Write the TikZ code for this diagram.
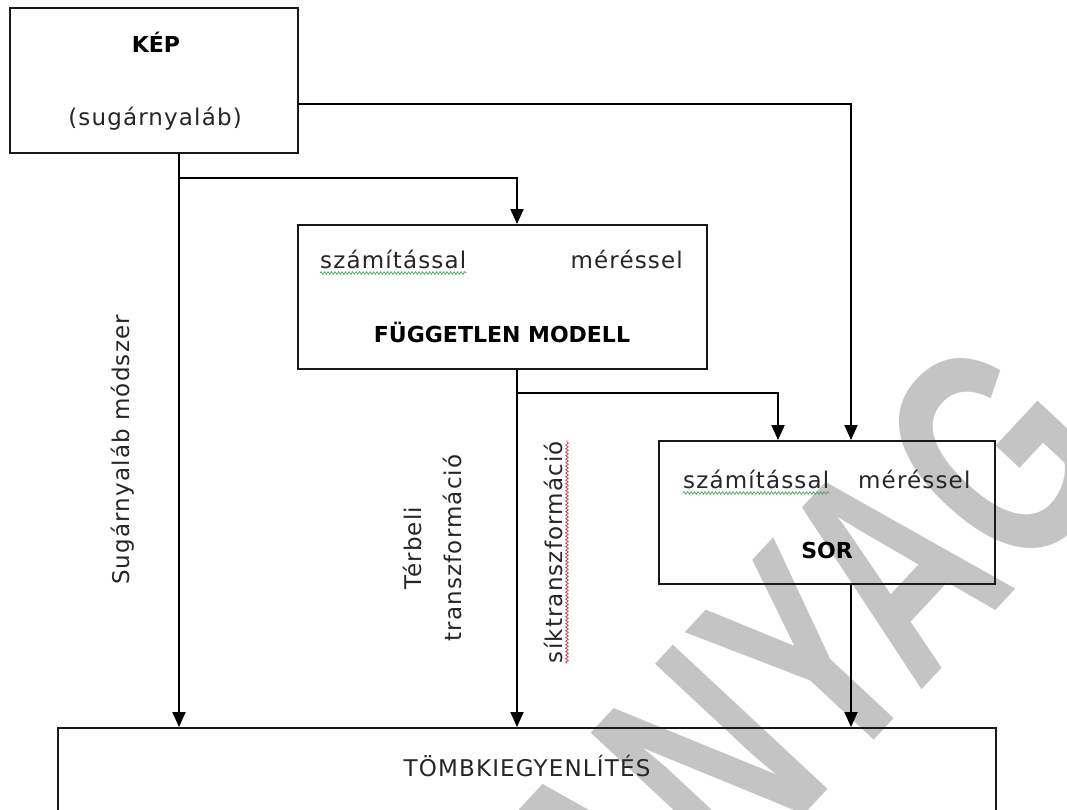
\documentclass[tikz,border=0pt]{standalone}
\usepackage{fontspec}
\usepackage{graphicx}
\setmainfont{DejaVu Sans}
\newfontfamily\lblfont{DejaVu Sans}[LetterSpace=5]
\newfontfamily\hdrfont{DejaVu Sans}
\newfontfamily\wmfont{Liberation Sans}
\usetikzlibrary{arrows.meta,decorations.pathmorphing,calc}
\definecolor{wmgray}{RGB}{196,196,196}
\definecolor{spellgreen}{RGB}{70,170,90}
\definecolor{spellred}{RGB}{215,50,70}
\begin{document}
\begin{tikzpicture}[x=1pt,y=-1pt,
  box/.style={draw=black!90, line width=1.9pt, inner sep=0pt},
  lbl/.style={font=\lblfont\fontsize{23}{28}\selectfont, inner sep=0pt, text=black!85},
  hdr/.style={font=\hdrfont\bfseries\fontsize{22}{26}\selectfont, inner sep=0pt, text=black},
  arr/.style={draw=black, line width=1.8pt, -{Triangle[width=13pt,length=15pt]}},
  wavyg/.style={draw=spellgreen, line width=0.7pt, decorate, decoration={snake, amplitude=1.3pt, segment length=3.5pt}},
  wavyr/.style={draw=spellred, line width=0.7pt, decorate, decoration={snake, amplitude=1.3pt, segment length=3.5pt}},
  wm/.style={font=\wmfont\bfseries\fontsize{205}{205}\selectfont, text=wmgray, inner sep=0pt}]
\useasboundingbox (0,0) rectangle (1067,810);
\fill[white] (0,0) rectangle (1067,810);
\clip (0,0) rectangle (1067,810);

% watermark
\node[wm, rotate=47, anchor=base east] (wmark) at (1128,468) {\scalebox{1}[1.5]{TANANYAG}};

% boxes
\node[box, minimum width=288pt, minimum height=145pt] (kep) at (154,80.5) {};
\node[hdr, anchor=base] (keptitle) at (156,53) {KÉP};
\node[lbl, anchor=base] (kepsub) at (155,126) {(sugárnyaláb)};

\node[box, minimum width=409pt, minimum height=144pt] (fm) at (502.5,297) {};
\node[lbl, anchor=base west] (fmcalc) at (320,268) {számítással};
\node[lbl, anchor=base east] (fmmeas) at (683,268) {méréssel};
\node[hdr, anchor=base] (fmtitle) at (502,342) {FÜGGETLEN MODELL};

\node[box, minimum width=336pt, minimum height=143pt] (sor) at (827,512.5) {};
\node[lbl, anchor=base west] (sorcalc) at (683,488) {számítással};
\node[lbl, anchor=base west] (sormeas) at (858,488) {méréssel};
\node[hdr, anchor=base] (sortitle) at (827,558) {SOR};

\node[box, minimum width=938pt, minimum height=140pt] (tomb) at (527,798) {};
\node[lbl, anchor=base] (tombtitle) at (527,776) {TÖMBKIEGYENLÍTÉS};

% vertical labels
\node[lbl, rotate=90, anchor=base] (sugar) at (129,450) {Sugárnyaláb módszer};
\node[lbl, rotate=90, align=center, font=\lblfont\fontsize{23}{40}\selectfont] (terb) at (432,548) {Térbeli\\transzformáció};
\node[lbl, rotate=90, anchor=base] (sik) at (562,552) {síktranszformáció};

% spell-check underlines
\draw[wavyg] ([yshift=-5pt]fmcalc.base west) -- ([yshift=-5pt]fmcalc.base east);
\draw[wavyg] ([yshift=-5pt]sorcalc.base west) -- ([yshift=-5pt]sorcalc.base east);
\draw[wavyr] ([xshift=5pt]sik.base west) -- ([xshift=5pt]sik.base east);

% connectors
\coordinate (b1) at (179,178);
\coordinate (b2) at (517,393);
\draw[arr] ([yshift=-23.5pt]kep.east) -| ([xshift=24pt]sor.north);
\draw[arr] ([xshift=25pt]kep.south) -- ([xshift=25pt]kep.south |- tomb.north);
\draw[arr] (b1) -| ([xshift=14.5pt]fm.north);
\draw[arr] ([xshift=14.5pt]fm.south) -- ([xshift=14.5pt]fm.south |- tomb.north);
\draw[arr] (b2) -| ([xshift=-49pt]sor.north);
\draw[arr] ([xshift=24pt]sor.south) -- ([xshift=24pt]sor.south |- tomb.north);
\end{tikzpicture}
\end{document}
